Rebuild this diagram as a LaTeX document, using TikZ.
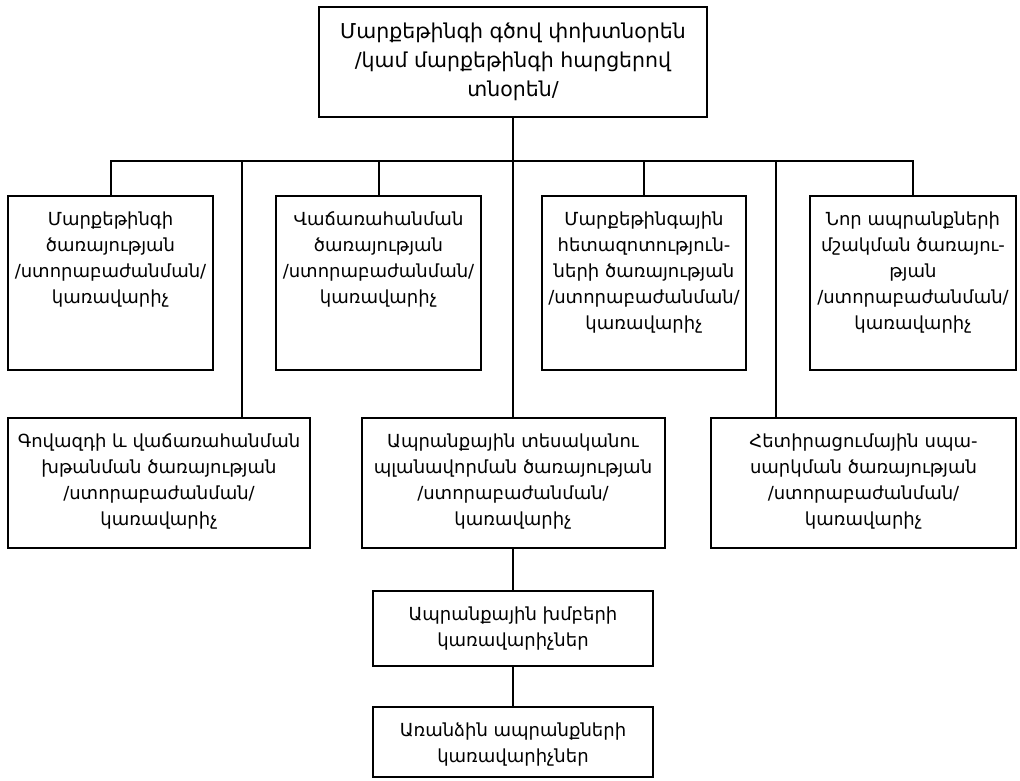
\documentclass[tikz,border=0pt]{standalone}
\usepackage{fontspec}
\setmainfont{DejaVu Sans}
\newcommand{\tuptext}[4]{% width, height, top gap, lines
  \begin{minipage}[c][#2][t]{#1}\centering\vspace*{#3}#4\end{minipage}}
\begin{document}
\begin{tikzpicture}[x=1pt,y=-1pt,
    tup/.style={draw=black, line width=2pt, inner sep=0pt, font=\fontsize{18}{26}\selectfont},
    glxavor/.style={tup, font=\fontsize{20.5}{29}\selectfont},
    gits/.style={line width=2pt}
  ]
  \useasboundingbox (0,0) rectangle (1020,780);
  % --- tnoren ---
  \node[glxavor] (b0) at (513,62) {\tuptext{388pt}{110pt}{16pt}{Մարքեթինգի գծով փոխտնօրեն\\/կամ մարքեթինգի հարցերով\\տնօրեն/}};
  % --- arajin shark ---
  \node[tup] (b1) at (110.5,283) {\tuptext{205pt}{174pt}{16pt}{Մարքեթինգի\\ծառայության\\/ստորաբաժանման/\\կառավարիչ}};
  \node[tup] (b2) at (378.5,283) {\tuptext{205pt}{174pt}{16pt}{Վաճառահանման\\ծառայության\\/ստորաբաժանման/\\կառավարիչ}};
  \node[tup] (b3) at (644,283) {\tuptext{204pt}{174pt}{16pt}{Մարքեթինգային\\հետազոտություն-\\ների ծառայության\\/ստորաբաժանման/\\կառավարիչ}};
  \node[tup] (b4) at (913,283) {\tuptext{206pt}{174pt}{16pt}{Նոր ապրանքների\\մշակման ծառայու-\\թյան\\/ստորաբաժանման/\\կառավարիչ}};
  % --- erkrord shark ---
  \node[tup] (b5) at (159,483) {\tuptext{302pt}{130pt}{16pt}{Գովազդի և վաճառահանման\\խթանման ծառայության\\/ստորաբաժանման/\\կառավարիչ}};
  \node[tup] (b6) at (513,483) {\tuptext{303pt}{130pt}{16pt}{Ապրանքային տեսականու\\պլանավորման ծառայության\\/ստորաբաժանման/\\կառավարիչ}};
  \node[tup] (b7) at (863.5,483) {\tuptext{305pt}{130pt}{16pt}{Հետիրացումային սպա-\\սարկման ծառայության\\/ստորաբաժանման/\\կառավարիչ}};
  % --- karavarichner ---
  \node[tup] (b8) at (513,628.5) {\tuptext{280pt}{75pt}{16pt}{Ապրանքային խմբերի\\կառավարիչներ}};
  \node[tup] (b9) at (513,742) {\tuptext{280pt}{70pt}{16pt}{Առանձին ապրանքների\\կառավարիչներ}};

  % --- kaper ---
  \coordinate (bus) at (513,161);
  \coordinate (k5) at (242,161);
  \coordinate (k7) at (776,161);
  \draw[gits] (b0) -- (b6);
  \draw[gits] (b1.north) |- (bus) -| (b4.north);
  \draw[gits] (b2.north) -- (b2.north |- bus);
  \draw[gits] (b3.north) -- (b3.north |- bus);
  \draw[gits] (k5) -- (k5 |- b5.north);
  \draw[gits] (k7) -- (k7 |- b7.north);
  \draw[gits] (b6) -- (b8);
  \draw[gits] (b8) -- (b9);
\end{tikzpicture}
\end{document}
